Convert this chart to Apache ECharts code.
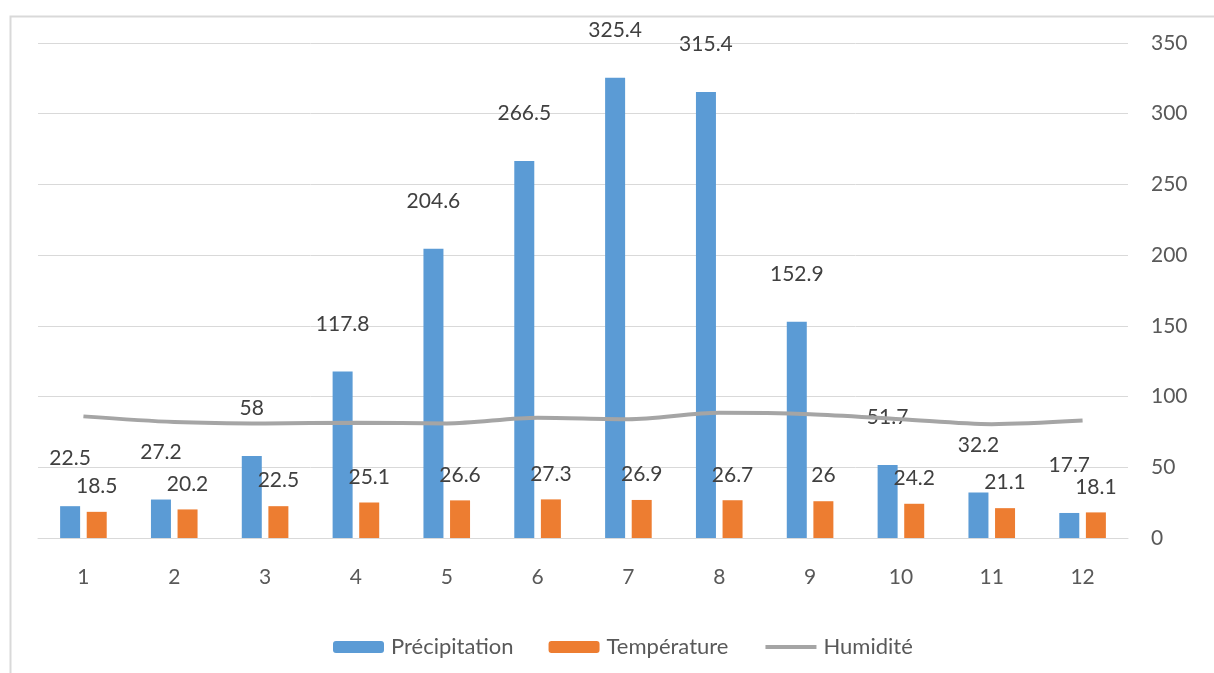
<!DOCTYPE html>
<html>
<head>
<meta charset="utf-8">
<script src="https://cdn.jsdelivr.net/npm/echarts@6/dist/echarts.min.js"></script>
<style>html,body{margin:0;padding:0;background:#fff}#c{width:1214px;height:673px}</style>
</head>
<body>
<div id="c"></div>
<script>
const categories = ['1','2','3','4','5','6','7','8','9','10','11','12'];
const precipitation = [22.5, 27.2, 58, 117.8, 204.6, 266.5, 325.4, 315.4, 152.9, 51.7, 32.2, 17.7];
const temperature = [18.5, 20.2, 22.5, 25.1, 26.6, 27.3, 26.9, 26.7, 26, 24.2, 21.1, 18.1];
const humidity = [86, 82, 81, 81.5, 81, 85, 84, 88.5, 87.5, 84, 80.5, 83];
const seriesNames = ['Précipitation', 'Température', 'Humidité'];

const FONT = 'Lato, "Open Sans", sans-serif';
const chart = echarts.init(document.getElementById('c'));
chart.setOption({
  animation: false,
  textStyle: { fontFamily: FONT },
  graphic: [{
    type: 'rect', left: 8, top: 14, silent: true,
    shape: { width: 1220, height: 700 },
    style: { fill: 'none', stroke: '#d9d9d9', lineWidth: 2 }
  }],
  grid: { left: 38, right: 86, top: 43, bottom: 135 },
  legend: {
    left: 328, top: 631,
    itemWidth: 51, itemHeight: 12, itemGap: 35,
    textStyle: { fontSize: 22, color: '#595959', fontFamily: FONT, padding: [0, 0, 0, 2] },
    data: [
      { name: seriesNames[0] },
      { name: seriesNames[1] },
      { name: seriesNames[2],
        itemStyle: { color: 'rgba(0,0,0,0)', opacity: 0, borderWidth: 0 },
        lineStyle: { width: 4, color: '#a5a5a5' } }
    ]
  },
  xAxis: {
    type: 'category', data: categories,
    axisLine: { lineStyle: { color: '#d9d9d9', width: 1 } },
    axisTick: { show: false },
    axisLabel: { color: '#595959', fontSize: 21, margin: 29, fontFamily: FONT }
  },
  yAxis: {
    type: 'value', position: 'right', min: 0, max: 350, interval: 50,
    axisLine: { show: false }, axisTick: { show: false },
    splitLine: { lineStyle: { color: '#d9d9d9', width: 1 } },
    axisLabel: { color: '#595959', fontSize: 21, margin: 23, fontFamily: FONT }
  },
  series: [
    {
      name: seriesNames[0], type: 'bar', data: precipitation,
      barWidth: 20, barGap: '33%',
      itemStyle: { color: '#5b9bd5' },
      label: { show: true, position: 'top', distance: 37,
        color: '#404040', fontSize: 21, fontFamily: FONT }
    },
    {
      name: seriesNames[1], type: 'bar', data: temperature,
      barWidth: 20,
      itemStyle: { color: '#ed7d31' },
      label: { show: true, position: 'top', distance: 15,
        color: '#404040', fontSize: 21, fontFamily: FONT }
    },
    {
      name: seriesNames[2], type: 'line', data: humidity,
      smooth: 0.3, symbol: 'none',
      lineStyle: { color: '#a5a5a5', width: 4 },
      itemStyle: { color: '#a5a5a5' },
      z: 3
    }
  ]
});
</script>
</body>
</html>
